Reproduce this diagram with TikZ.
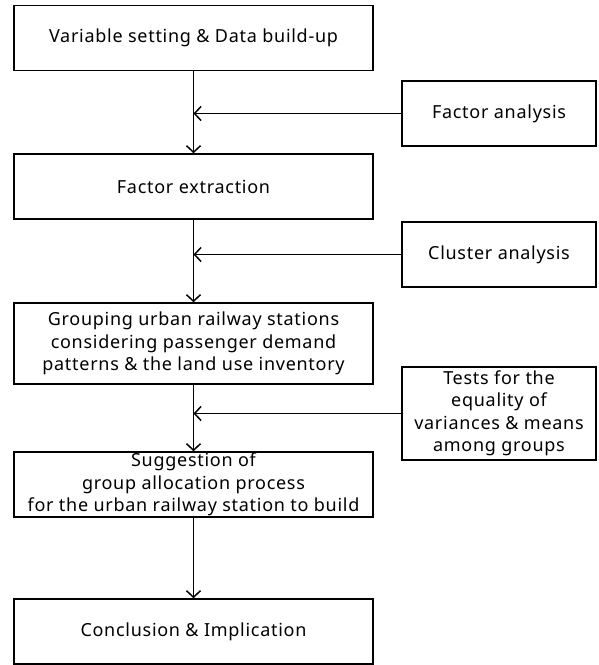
\documentclass[tikz,border=0pt]{standalone}
\usepackage{fontspec}
\setmainfont[LetterSpace=4]{Noto Sans}
\usetikzlibrary{arrows.meta}

\begin{document}
\begin{tikzpicture}[x=1pt, y=-1pt, >={Straight Barb[length=6.5pt,width=14pt]}, line width=1.5pt,
  mainbox/.style={draw, minimum width=359pt, minimum height=65pt, align=center, inner sep=0pt,
    font=\fontsize{18}{22.5}\selectfont},
  sidebox/.style={draw, minimum width=194pt, minimum height=65pt, align=center, inner sep=0pt,
    font=\fontsize{18}{22.5}\selectfont}]
  \useasboundingbox (0,0) rectangle (598,665);
  % main steps
  \node[mainbox] (var) at (193.5,38) {Variable setting \& Data build-up};
  \node[mainbox] (fe) at (193.5,186.5) {Factor extraction};
  \node[mainbox, minimum height=81pt] (grp) at (193.5,343.5)
    {Grouping urban railway stations\\considering passenger demand\\patterns \& the land use inventory};
  \node[mainbox] (sug) at (193.5,484.5)
    {Suggestion of\\group allocation process\\for the urban railway station to build};
  \node[mainbox] (con) at (193.5,631.5) {Conclusion \& Implication};
  % methods
  \node[sidebox] (fa) at (499,113.5) {Factor analysis};
  \node[sidebox] (ca) at (499,254.5) {Cluster analysis};
  \node[sidebox, minimum height=93pt] (tst) at (499,413.5)
    {Tests for the\\equality of\\variances \& means\\among groups};
  % flow
  \draw[->] (var.south) -- (fe.north);
  \draw[->] (fe.south) -- (grp.north);
  \draw[->] (grp.south) -- (sug.north);
  \draw[->] (sug.south) -- (con.north);
  \draw[->] (fa.west) -- (fa.west -| var.south);
  \draw[->] (ca.west) -- (ca.west -| fe.south);
  \draw[->] (tst.west) -- (tst.west -| grp.south);
\end{tikzpicture}
\end{document}
